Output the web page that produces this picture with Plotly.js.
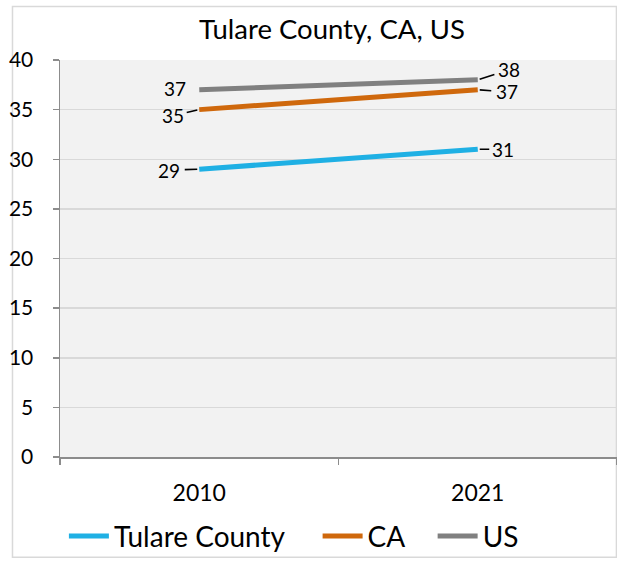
<!DOCTYPE html>
<html>
<head>
<meta charset="utf-8">
<script src="https://cdn.plot.ly/plotly-3.0.1.min.js"></script>
<style>
  body { margin: 0; background: #fff; }
  #chart { width: 617px; height: 562px; }
</style>
</head>
<body>
<div id="chart"></div>
<script>
// Data
const years = ['2010', '2021'];
const tulare = [29, 31];
const ca = [35, 37];
const us = [37, 38];

const seriesNames = ['Tulare County', 'CA', 'US'];
const seriesColors = ['#1FB0E4', '#CF680C', '#808080'];
const seriesValues = [tulare, ca, us];

const FONT = 'Lato, "Open Sans", sans-serif';

// Each series gets its own legend so the entries can be spaced like the original
const legendIds = ['legend', 'legend2', 'legend3'];
const legendLeft = [0.007, 0.4625, 0.669];

// One line trace per series
const traces = seriesValues.map((vals, i) => ({
    x: years,
    y: vals,
    type: 'scatter',
    mode: 'lines',
    name: seriesNames[i],
    legend: legendIds[i],
    line: { color: seriesColors[i], width: 5 },
    hoverinfo: 'skip'
}));

// Label offsets (pixels) for each series at each year, and whether a leader line shows
const labelOffsets = [
    [{ ax: -30, ay: 1, arrow: true, gap: 4 }, { ax: 25, ay: 0, arrow: true, gap: 2 }],
    [{ ax: -26, ay: 6, arrow: true, gap: 2 }, { ax: 29, ay: 2, arrow: true, gap: 4 }],
    [{ ax: -24, ay: -1, arrow: false, gap: 0 }, { ax: 31, ay: -10, arrow: true, gap: 3 }]
];

// Category axis: annotation x is the category index (names look numeric)
const annotations = [];
seriesValues.forEach((vals, i) => {
    vals.forEach((v, j) => {
        const o = labelOffsets[i][j];
        annotations.push({
            x: j,
            y: v,
            xref: 'x',
            yref: 'y',
            text: String(v),
            showarrow: true,
            arrowhead: 0,
            arrowwidth: 1.6,
            arrowcolor: o.arrow ? '#000' : 'rgba(0,0,0,0)',
            ax: o.ax,
            ay: o.ay,
            standoff: 2,
            startstandoff: o.gap,
            borderpad: 0,
            font: { family: FONT, size: 19, color: '#000' }
        });
    });
});

const layout = {
    width: 617,
    height: 562,
    margin: { l: 60, r: 0, t: 60, b: 102 },
    paper_bgcolor: '#fff',
    plot_bgcolor: '#F2F2F2',
    font: { family: FONT, color: '#000' },
    title: {
        text: 'Tulare County, CA, US',
        font: { family: FONT, size: 27.5, color: '#000' },
        x: 0.538,
        xanchor: 'center',
        y: 0.947,
        yanchor: 'middle'
    },
    showlegend: true,
    xaxis: {
        type: 'category',
        range: [-0.5, 1.5],
        showgrid: false,
        zeroline: false,
        showline: true,
        linecolor: '#8C8C8C',
        linewidth: 1.5,
        ticks: 'outside',
        tickson: 'boundaries',
        ticklen: 6,
        tickcolor: '#8C8C8C',
        tickwidth: 1.5,
        ticklabelstandoff: 15,
        tickfont: { family: FONT, size: 23, color: '#000' }
    },
    yaxis: {
        range: [0, 40],
        dtick: 5,
        showgrid: true,
        gridcolor: '#D9D9D9',
        gridwidth: 1.5,
        zeroline: false,
        showline: true,
        linecolor: '#8C8C8C',
        linewidth: 1.5,
        ticks: 'outside',
        ticklen: 6,
        tickcolor: '#8C8C8C',
        tickwidth: 1.5,
        ticklabelstandoff: 15,
        tickfont: { family: FONT, size: 21, color: '#000' }
    },
    annotations: annotations,
    shapes: [{
        // thin border around the chart area
        type: 'rect',
        xref: 'paper',
        yref: 'paper',
        x0: -0.0853, x1: 0.999,
        y0: -0.2525, y1: 1.135,
        line: { color: '#D9D9D9', width: 1.5 },
        fillcolor: 'rgba(0,0,0,0)',
        layer: 'below'
    }]
};

legendIds.forEach((id, i) => {
    layout[id] = {
        orientation: 'h',
        x: legendLeft[i],
        xanchor: 'left',
        y: -0.2,
        yanchor: 'middle',
        bgcolor: 'rgba(0,0,0,0)',
        font: { family: FONT, size: 28, color: '#000' },
        itemwidth: 40
    };
});

Plotly.newPlot('chart', traces, layout, { displayModeBar: false, staticPlot: true });
</script>
</body>
</html>
